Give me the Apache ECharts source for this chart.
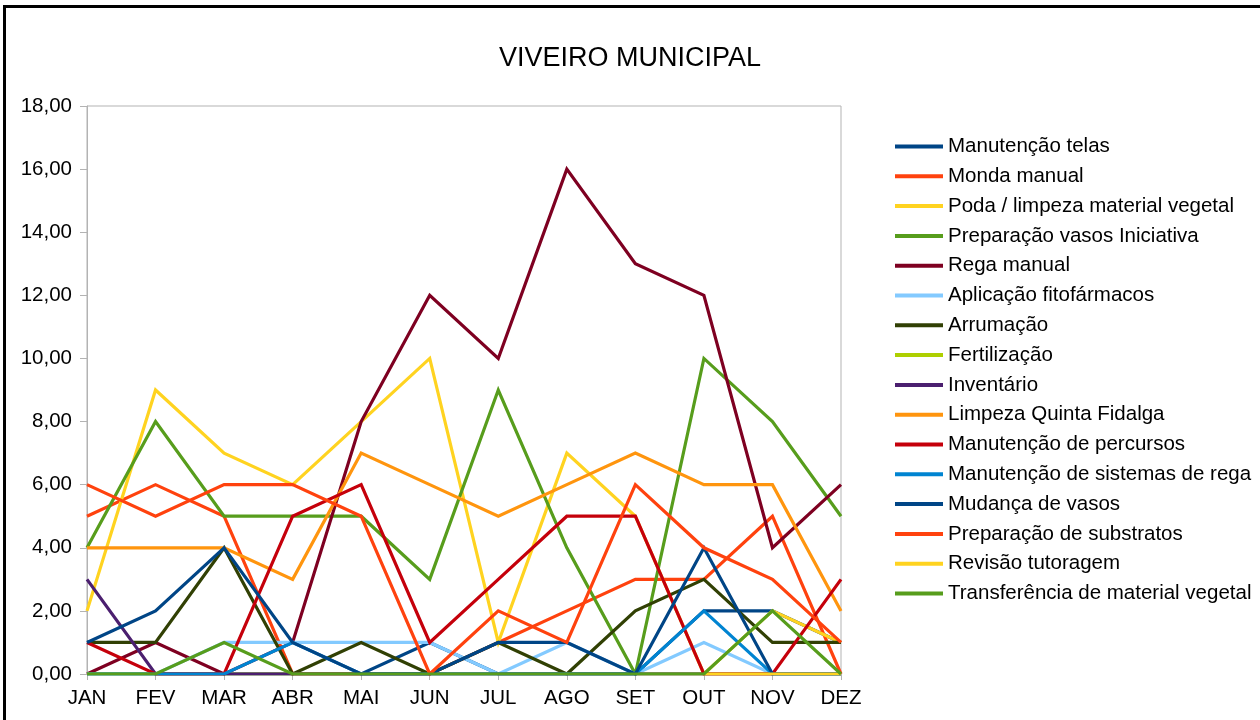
<!DOCTYPE html>
<html>
<head>
<meta charset="utf-8">
<script src="https://cdn.jsdelivr.net/npm/echarts@6/dist/echarts.min.js"></script>
<style>
  html, body { margin: 0; padding: 0; background: #fff; }
  #chart { width: 1260px; height: 720px; }
</style>
</head>
<body>
<div id="chart"></div>
<script>
// Monthly hours per task at the municipal nursery
const months = ['JAN', 'FEV', 'MAR', 'ABR', 'MAI', 'JUN', 'JUL', 'AGO', 'SET', 'OUT', 'NOV', 'DEZ'];

const manutencaoTelas        = [0, 0, 0, 0, 0, 1, 0, 0, 0, 2, 2, 1];
const mondaManual            = [5, 6, 5, 0, 0, 0, 1, 2, 3, 3, 5, 0];
const podaLimpeza            = [2, 9, 7, 6, 8, 10, 1, 7, 5, 0, 2, 1];
const preparacaoVasos        = [4, 8, 5, 5, 5, 3, 9, 4, 0, 10, 8, 5];
const regaManual             = [0, 1, 0, 1, 8, 12, 10, 16, 13, 12, 4, 6];
const aplicacaoFitofarmacos  = [0, 0, 1, 1, 1, 1, 0, 1, 0, 1, 0, 0];
const arrumacao              = [1, 1, 4, 0, 1, 0, 1, 0, 2, 3, 1, 1];
const fertilizacao           = [0, 0, 0, 0, 0, 0, 0, 0, 0, 0, 0, 0];
const inventario             = [3, 0, 0, 0, 0, 0, 0, 0, 0, 0, 0, 0];
const limpezaQuintaFidalga   = [4, 4, 4, 3, 7, 6, 5, 6, 7, 6, 6, 2];
const manutencaoPercursos    = [1, 0, 0, 5, 6, 1, 3, 5, 5, 0, 0, 3];
const manutencaoSistemasRega = [0, 0, 0, 1, 0, 0, 0, 0, 0, 2, 0, 0];
const mudancaVasos           = [1, 2, 4, 1, 0, 0, 1, 1, 0, 4, 0, 0];
const preparacaoSubstratos   = [6, 5, 6, 6, 5, 0, 2, 1, 6, 4, 3, 1];
const revisaoTutoragem       = [null, null, null, null, null, null, null, null, null, 0, 0, 0];
const transferenciaMaterial  = [0, 0, 1, 0, 0, 0, 0, 0, 0, 0, 2, 0];

const seriesDefs = [
  ['Manutenção telas', manutencaoTelas, '#004586'],
  ['Monda manual', mondaManual, '#ff420e'],
  ['Poda / limpeza material vegetal', podaLimpeza, '#ffd320'],
  ['Preparação vasos Iniciativa', preparacaoVasos, '#579d1c'],
  ['Rega manual', regaManual, '#7e0021'],
  ['Aplicação fitofármacos', aplicacaoFitofarmacos, '#83caff'],
  ['Arrumação', arrumacao, '#314004'],
  ['Fertilização', fertilizacao, '#aecf00'],
  ['Inventário', inventario, '#4b1f6f'],
  ['Limpeza Quinta Fidalga', limpezaQuintaFidalga, '#ff950e'],
  ['Manutenção de percursos', manutencaoPercursos, '#c5000b'],
  ['Manutenção de sistemas de rega', manutencaoSistemasRega, '#0084d1'],
  ['Mudança de vasos', mudancaVasos, '#004586'],
  ['Preparação de substratos', preparacaoSubstratos, '#ff420e'],
  ['Revisão tutoragem', revisaoTutoragem, '#ffd320'],
  ['Transferência de material vegetal', transferenciaMaterial, '#579d1c']
];

const FONT = 'Liberation Sans, Arial, sans-serif';
const chart = echarts.init(document.getElementById('chart'), null, { renderer: 'canvas' });

chart.setOption({
  animation: false,
  backgroundColor: '#ffffff',
  textStyle: { fontFamily: FONT },
  title: {
    text: 'VIVEIRO MUNICIPAL',
    left: 'center',
    top: 40,
    textStyle: { fontFamily: FONT, fontSize: 27, fontWeight: 'normal', color: '#000' }
  },
  graphic: [{
    type: 'rect',
    shape: { x: 4.5, y: 6.5, width: 1300, height: 800 },
    style: { fill: 'none', stroke: '#000', lineWidth: 3 },
    silent: true
  }],
  grid: {
    left: 87, top: 106, width: 754, height: 568,
    show: true, borderColor: '#b3b3b3', borderWidth: 1, backgroundColor: 'transparent'
  },
  legend: {
    orient: 'vertical',
    left: 895,
    top: 136,
    icon: 'rect',
    itemWidth: 48,
    itemHeight: 4,
    itemGap: 8.8,
    padding: 0,
    selectedMode: false,
    textStyle: { fontFamily: FONT, fontSize: 20.5, color: '#000', lineHeight: 20 },
    data: seriesDefs.map(d => d[0])
  },
  xAxis: {
    type: 'category',
    data: months,
    boundaryGap: false,
    axisLine: { show: true, lineStyle: { color: '#b3b3b3', width: 1 } },
    axisTick: { show: true, length: 6, lineStyle: { color: '#b3b3b3' } },
    axisLabel: { fontFamily: FONT, fontSize: 20.5, color: '#000', margin: 14 },
    splitLine: { show: false }
  },
  yAxis: {
    type: 'value',
    min: 0,
    max: 18,
    interval: 2,
    axisLine: { show: true, lineStyle: { color: '#b3b3b3', width: 1 } },
    axisTick: { show: true, length: 7, lineStyle: { color: '#b3b3b3' } },
    axisLabel: {
      fontFamily: FONT, fontSize: 20.5, color: '#000', margin: 15,
      formatter: v => v.toFixed(2).replace('.', ',')
    },
    splitLine: { show: false }
  },
  series: seriesDefs.map(([name, values, color]) => ({
    name,
    type: 'line',
    data: values,
    showSymbol: false,
    symbol: 'none',
    connectNulls: false,
    color,
    lineStyle: { color, width: 3.2, join: 'miter' },
    itemStyle: { color },
    emphasis: { disabled: true }
  }))
});
</script>
</body>
</html>
